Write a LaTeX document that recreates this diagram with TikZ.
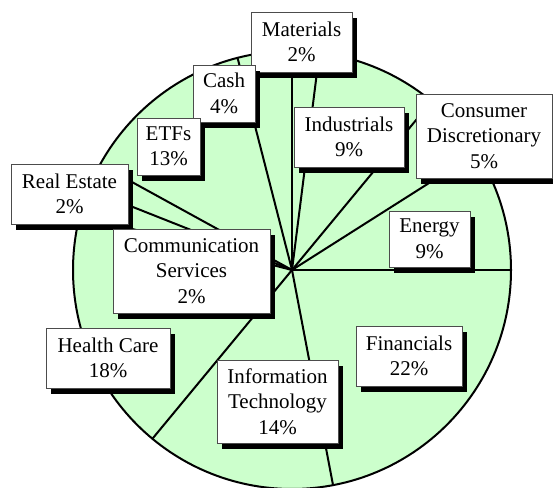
\documentclass[tikz,border=0pt]{standalone}
\usepackage{fontspec}
\setmainfont{Liberation Serif}
\usepackage{tikz}
\usetikzlibrary{shadows,positioning}
\definecolor{piegreen}{HTML}{CCFFCC}
\tikzset{
  sector/.style={line width=2pt,black},
  tag/.style={draw=gray!60!black,line width=0.8pt,fill=white,align=center,inner sep=0pt,
    font=\fontsize{21}{25.5}\selectfont,
    drop shadow={shadow xshift=5pt,shadow yshift=-6pt,fill=black,opacity=1}},
}

\begin{document}
\begin{tikzpicture}[x=1pt,y=1pt]
	\useasboundingbox (0,0) rectangle (553,487);
	%Pie
	\coordinate (O) at (292,217);
	\fill[piegreen] (O) circle (219);
	\draw[sector] (O) circle (219);
	
	%Slice borders
	\coordinate (s0) at ([shift={(0:219)}]O);
	\coordinate (s1) at ([shift={(-79.2:219)}]O);
	\coordinate (s2) at ([shift={(-129.6:219)}]O);
	\coordinate (s3) at ([shift={(165.6:219)}]O);
	\coordinate (s4) at ([shift={(158.4:219)}]O);
	\coordinate (s5) at ([shift={(151.2:219)}]O);
	\coordinate (s6) at ([shift={(104.4:219)}]O);
	\coordinate (s7) at ([shift={(90:219)}]O);
	\coordinate (s8) at ([shift={(82.8:219)}]O);
	\coordinate (s9) at ([shift={(50.4:219)}]O);
	\coordinate (s10) at ([shift={(32.4:219)}]O);
	\draw[sector] (O)--(s0);
	\draw[sector] (O)--(s1);
	\draw[sector] (O)--(s2);
	\draw[sector] (O)--(s3);
	\draw[sector] (O)--(s4);
	\draw[sector] (O)--(s5);
	\draw[sector] (O)--(s6);
	\draw[sector] (O)--(s7);
	\draw[sector] (O)--(s8);
	\draw[sector] (O)--(s9);
	\draw[sector] (O)--(s10);
	
	%Labels
	\node[tag,minimum width=101,minimum height=60] (mat) at (301.5,445) {Materials\\2\%};
	\node[tag,minimum width=62,minimum height=57] (cash) at (224,393.5) {Cash\\4\%};
	\node[tag,minimum width=63,minimum height=57] (etf) at (168.5,340.5) {ETFs\\13\%};
	\node[tag,minimum width=117,minimum height=60] (re) at (69.5,293) {Real Estate\\2\%};
	\node[tag,minimum width=157,minimum height=84] (comm) at (191.5,216) {Communication\\Services\\2\%};
	\node[tag,minimum width=124,minimum height=60] (hc) at (108,129) {Health Care\\18\%};
	\node[tag,minimum width=121,minimum height=83] (it) at (277.5,85.5) {Information\\Technology\\14\%};
	\node[tag,minimum width=106,minimum height=60] (fin) at (409,131) {Financials\\22\%};
	\node[tag,minimum width=81,minimum height=56] (en) at (429.5,248) {Energy\\9\%};
	\node[tag,minimum width=136,minimum height=84] (cd) at (484,351) {Consumer\\Discretionary\\5\%};
	\node[tag,minimum width=110,minimum height=60] (ind) at (349,350) {Industrials\\9\%};
\end{tikzpicture}
\end{document}
